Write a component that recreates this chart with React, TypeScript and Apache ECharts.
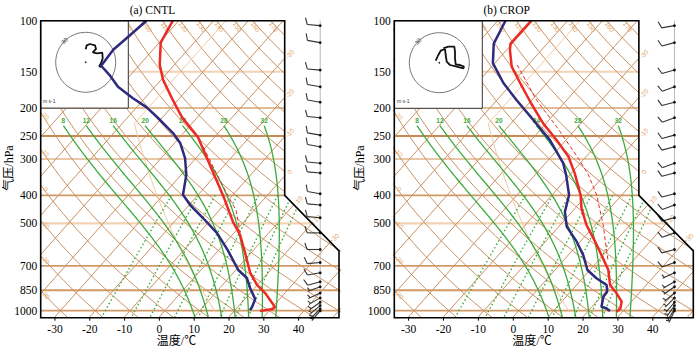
import React, { useEffect, useRef } from "react";
import * as echarts from "echarts";

// ---------------- diagram geometry ----------------
const SKEW = 74; // °C of x-shift per decade of pressure
const P_REF = 1050; // pressure where x equals temperature
const P_TOP = 100;
const P_BOTTOM = 1057;
const X_MIN = -34.1;
const X_MAX = 51.6;
const X_NOTCH = 36;
const P_NOTCH_TOP = 400;
const P_NOTCH_BOTTOM = 622;
const X_WIND = 46.2;
const MOIST_TOP = 230;

// ---------------- tick labels ----------------
const pressureTicks = [100, 150, 200, 250, 300, 400, 500, 700, 850, 1000];
const temperatureTicks = [-30, -20, -10, 0, 10, 20, 30, 40];

// ---------------- background families ----------------
const isobars = [150, 200, 250, 300, 400, 500, 700, 850, 1000];
const isobarColors = ["#f2d3b5", "#d6a472", "#c88a52", "#e0b48c", "#d09a66", "#f2d3b5", "#d09a66", "#d09a66", "#d09a66"];
const isobarWidths = [2.2, 1.6, 2, 1.6, 1.8, 2.2, 1.8, 1.8, 1.8];
const isotherms = [-110, -100, -90, -80, -70, -60, -50, -40, -30, -20, -10, 0, 10, 20, 30, 40, 50];
const dryAdiabats = [-40, -30, -20, -10, 0, 10, 20, 30, 40, 50, 60, 70, 80, 90, 100, 110, 120, 130, 140, 150, 160, 170, 180];
const moistAdiabats = [8, 12, 16, 20, 24, 28, 32];
const mixingRatios = [1, 2, 3, 5, 8, 12, 16, 20];
const isothermLabelTemps = [-30, -20, -10, 0, 10, 20, 30];
const stdAtmHeights = [0, 0.5, 1, 1.5, 2, 2.5, 3, 3.5, 4, 4.5, 5, 5.5, 6, 6.5, 7, 7.5, 8, 8.5, 9, 9.5, 10, 10.5, 11, 11.5, 12, 12.5, 13, 13.5, 14, 14.5, 15, 15.5, 16, 16.5];

// ---------------- CNTL sounding ----------------
const cntlTempPressure = [100, 119, 142, 160, 188, 215, 252, 320, 409, 495, 548, 632, 741, 815, 869, 971, 986, 1002];
const cntlTemperature = [-71.7, -69.6, -64.2, -59.4, -51.4, -44.5, -34.8, -23.4, -11.7, -3.0, 2.3, 8.3, 14.9, 19.9, 24.3, 30.7, 30.6, 27.4];
const cntlDewPressure = [100, 112, 126, 143, 154, 169, 185, 199, 220, 244, 264, 298, 340, 398, 432, 479, 540, 618, 724, 771, 835, 912, 971, 995];
const cntlDewpoint = [-79.3, -80.3, -81.4, -80.8, -76.0, -70.6, -63.4, -57.1, -50.0, -43.0, -38.4, -33.1, -28.5, -24.4, -19.7, -12.7, -4.8, 2.6, 10.7, 15.2, 18.7, 23.0, 24.1, 24.3];
const cntlParcelPressure = [272, 335, 415, 450, 535];
const cntlParcelTemp = [-30.8, -20.4, -9.5, -5.2, 1.5];

// ---------------- CROP sounding ----------------
const cropTempPressure = [100, 120, 126, 144, 164, 193, 226, 258, 294, 336, 399, 444, 507, 578, 660, 724, 815, 871, 931, 981, 1008];
const cropTemperature = [-70.4, -70.5, -69.1, -64.3, -57.7, -49.3, -40.8, -32.7, -25.1, -19.0, -11.8, -8.1, -2.4, 4.3, 10.8, 15.3, 19.6, 23.6, 27.2, 28.5, 28.3];
const cropDewPressure = [100, 120, 140, 164, 188, 220, 258, 310, 340, 399, 456, 513, 578, 643, 724, 773, 815, 860, 895, 969, 981, 1002];
const cropDewpoint = [-77.8, -75.3, -70.6, -62.5, -54.3, -44.5, -34.6, -24.9, -21.1, -15.1, -12.0, -7.7, -1.0, 4.3, 9.3, 14.0, 18.6, 20.5, 20.7, 22.7, 24.5, 26.2];
const cropParcelPressure = [142, 188, 232, 294, 340, 399, 506, 679];
const cropParcelTemp = [-63.2, -48.6, -36.1, -22.6, -14.7, -7.2, 2.3, 13.2];

// ---------------- winds ----------------
const windLevels = [104, 119, 148, 169, 191, 216, 248, 272, 310, 335, 395, 432, 478, 539, 615, 682, 740, 795, 827, 869, 903, 935, 960, 985, 1000];
const cntlWindDir = [275, 280, 275, 280, 280, 275, 280, 280, 275, 275, 280, 275, 275, 270, 270, 265, 260, 255, 250, 245, 240, 235, 230, 225, 220];
const cntlWindSpeed = [10, 10, 10, 10, 10, 10, 10, 10, 10, 10, 10, 10, 10, 10, 10, 10, 8, 8, 7, 7, 6, 6, 5, 5, 4];
const cropWindDir = [260, 255, 255, 250, 255, 250, 255, 255, 250, 255, 255, 250, 255, 250, 255, 250, 245, 240, 235, 230, 225, 220, 215, 210, 205];
const cropWindSpeed = [10, 10, 10, 10, 10, 10, 10, 10, 10, 10, 10, 10, 10, 10, 8, 8, 7, 7, 6, 6, 5, 5, 4, 4, 3];

// ---------------- hodographs (m/s) ----------------
const cntlHodoU = [0, 1, 4.3, 9.3, 10.3, 7, 11.6, 16.6, 17, 15.3, 13.6, 15.3];
const cntlHodoV = [13, 17, 18.3, 17, 13.3, 10, 9, 9.6, 4, -1, -3.7, -5];
const cropHodoU = [-3.6, -1, 1.4, 5.7, 6.4, 7.4, 10.7, 17.4, 24, 24.7, 20.7, 16.4, 15.7, 15.7, 15, 9, 4];
const cropHodoV = [2, 7.7, 12, 13.7, 7.7, 1, -2.3, -4, -5.6, -4, -2.3, -1.6, 4.4, 11, 16, 16, 14.4];
const hodoRingSpeed = 30;

// ---------------- thermodynamics ----------------
const LOG_REF = Math.log10(P_REF);
const Y_TOP = Math.log10(P_TOP);
const Y_BOTTOM = Math.log10(P_BOTTOM);
const yOf = (p: number) => Math.log10(p);
const xOf = (t: number, p: number) => t + SKEW * (LOG_REF - Math.log10(p));
const KAPPA = 0.2857;
const dryT = (thC: number, p: number) => (thC + 273.15) * Math.pow(p / 1000, KAPPA) - 273.15;
const satVap = (tc: number) => 6.112 * Math.exp((17.67 * tc) / (tc + 243.5));
const satMix = (tc: number, p: number) => {
  const e = satVap(tc);
  return (0.622 * e) / (p - e);
};
function moistRate(tk: number, p: number) {
  const Rd = 287.04, cp = 1005.7, Lv = 2.501e6, eps = 0.622;
  const r = satMix(tk - 273.15, p);
  return (Rd * tk + Lv * r) / (p * (cp + (Lv * Lv * r * eps) / (Rd * tk * tk)));
}
function integrateMoist(tk0: number, p0: number, p1: number, step: number) {
  const out: number[][] = [[p0, tk0]];
  let p = p0, t = tk0;
  const dp = p1 < p0 ? -step : step;
  const n = Math.round(Math.abs(p1 - p0) / step);
  for (let i = 0; i < n; i++) {
    const k1 = moistRate(t, p);
    const k2 = moistRate(t + (k1 * dp) / 2, p + dp / 2);
    const k3 = moistRate(t + (k2 * dp) / 2, p + dp / 2);
    const k4 = moistRate(t + k3 * dp, p + dp);
    t += (dp * (k1 + 2 * k2 + 2 * k3 + k4)) / 6;
    p += dp;
    out.push([p, t]);
  }
  return out;
}
function moistLine(thw: number) {
  const up = integrateMoist(thw + 273.15, 1000, MOIST_TOP, 5).reverse();
  const down = integrateMoist(thw + 273.15, 1000, P_BOTTOM, 3).slice(1);
  return up.concat(down).map(([p, tk]) => [xOf(tk - 273.15, p), yOf(p)]);
}
const mixT = (w: number, p: number) => {
  const e = (w * p) / (622 + w);
  const L = Math.log(e / 6.112);
  return (243.5 * L) / (17.67 - L);
};
function pressureSamples(pa: number, pb: number, n: number) {
  const a = Math.log10(pa), b = Math.log10(pb);
  const out: number[] = [];
  for (let i = 0; i <= n; i++) out.push(Math.pow(10, a + ((b - a) * i) / n));
  return out;
}
function stdAtm(z: number) {
  if (z <= 11) return { p: 1013.25 * Math.pow(1 - (0.0065 * z * 1000) / 288.15, 5.2559), t: 15 - 6.5 * z };
  return { p: 226.32 * Math.exp((-9.80665 * (z - 11) * 1000) / (287.05 * 216.65)), t: -56.5 };
}
const profile = (ps: number[], ts: number[]) => ps.map((p, i) => [xOf(ts[i], p), yOf(p)]);

// ---------------- series helpers ----------------
function lineS(ai: number, data: number[][], color: string, width: number, z: number, type: any = "solid", clip = true) {
  return {
    type: "line", xAxisIndex: ai, yAxisIndex: ai, data, symbol: "none", showSymbol: false, silent: true, clip, z,
    lineStyle: { color, width, type }, emphasis: { disabled: true }, animation: false,
  };
}
type Lbl = { x: number; y: number; text: string; rot: number; dx: number; dy: number; color: string; size: number; align?: string; weight?: string; family?: string };
function textS(ai: number, items: Lbl[], z: number) {
  return {
    type: "custom", xAxisIndex: ai, yAxisIndex: ai, z, silent: true, clip: false,
    data: items.map((it) => [it.x, it.y]),
    renderItem: (params: any, api: any) => {
      const it = items[params.dataIndex];
      const pt = api.coord([api.value(0), api.value(1)]);
      return {
        type: "text", x: pt[0] + it.dx, y: pt[1] + it.dy, rotation: (it.rot * Math.PI) / 180,
        style: {
          text: it.text, fill: it.color, fontSize: it.size, fontWeight: it.weight || "normal",
          fontFamily: it.family || "Liberation Sans", align: it.align || "center", verticalAlign: "middle",
        },
      };
    },
  };
}
function polyS(ai: number, pts: number[][], style: any, z: number) {
  return {
    type: "custom", xAxisIndex: ai, yAxisIndex: ai, z, silent: true, clip: false,
    data: [[pts[0][0], pts[0][1]]],
    renderItem: (_p: any, api: any) => ({ type: "polygon", shape: { points: pts.map((q) => api.coord(q)) }, style }),
  };
}
function barbS(ai: number, dirs: number[], spds: number[]) {
  return {
    type: "custom", xAxisIndex: ai, yAxisIndex: ai, z: 9, silent: true, clip: false,
    data: windLevels.map((p, i) => [X_WIND, yOf(p), dirs[i], spds[i]]),
    renderItem: (_p: any, api: any) => {
      const c = api.coord([api.value(0), api.value(1)]);
      const d = (api.value(2) * Math.PI) / 180;
      const s = Math.round(api.value(3) / 5) * 5;
      const vx = Math.sin(d), vy = -Math.cos(d);
      const a = (70 * Math.PI) / 180;
      const tx = vx * Math.cos(a) - vy * Math.sin(a);
      const ty = vx * Math.sin(a) + vy * Math.cos(a);
      const L = 13;
      const st = { stroke: "#333", lineWidth: 1.1 };
      const children: any[] = [{ type: "line", shape: { x1: c[0], y1: c[1], x2: c[0] + vx * L, y2: c[1] + vy * L }, style: st }];
      let rem = s, pos = L;
      while (rem >= 10) {
        const bx = c[0] + vx * pos, by = c[1] + vy * pos;
        children.push({ type: "line", shape: { x1: bx, y1: by, x2: bx + tx * 7, y2: by + ty * 7 }, style: st });
        pos -= 3; rem -= 10;
      }
      if (rem >= 5) {
        if (pos === L) pos -= 2;
        const bx = c[0] + vx * pos, by = c[1] + vy * pos;
        children.push({ type: "line", shape: { x1: bx, y1: by, x2: bx + tx * 3.8, y2: by + ty * 3.8 }, style: st });
      }
      children.push({ type: "circle", shape: { cx: c[0], cy: c[1], r: 1.4 }, style: { fill: "#111" } });
      return { type: "group", children };
    },
  };
}

const ORANGE = "#e2a66c";
const GREEN = "#3caa3c";
const BROWN = "#c99263";

function panelSeries(ai: number, hi: number, s: any) {
  const out: any[] = [];
  // isobars
  isobars.forEach((p, i) => out.push(lineS(ai, [[X_MIN, yOf(p)], [X_MAX, yOf(p)]], isobarColors[i], isobarWidths[i], 2)));
  // isotherms
  isotherms.forEach((t) => out.push(lineS(ai, [[xOf(t, P_TOP), Y_TOP], [xOf(t, P_BOTTOM), Y_BOTTOM]], BROWN, 1, 2)));
  // dry adiabats
  const dryPs = pressureSamples(P_TOP, P_BOTTOM, 40);
  dryAdiabats.forEach((th) => out.push(lineS(ai, dryPs.map((p) => [xOf(dryT(th, p), p), yOf(p)]), BROWN, 1, 2)));
  // standard atmosphere
  out.push(lineS(ai, stdAtmHeights.map((z) => { const q = stdAtm(z); return [xOf(q.t, q.p), yOf(q.p)]; }), "#f1c9a2", 1, 2));
  // moist adiabats
  moistAdiabats.forEach((w) => out.push(lineS(ai, moistLine(w), GREEN, 1.3, 2)));
  // mixing ratio
  const mixPs = pressureSamples(400, P_BOTTOM, 14);
  mixingRatios.forEach((w) => out.push(lineS(ai, mixPs.map((p) => [xOf(mixT(w, p), p), yOf(p)]), GREEN, 1.4, 2, [1.5, 2.5])));

  // labels: dry adiabats at left edge (under inset)
  const leftLbls: Lbl[] = [];
  dryAdiabats.forEach((th) => {
    const f = (p: number) => xOf(dryT(th, p), p) - X_MIN;
    if (f(P_BOTTOM) <= 0 || f(P_TOP) >= 0) return;
    let lo = P_TOP, hi2 = P_BOTTOM;
    for (let k = 0; k < 40; k++) { const m = (lo + hi2) / 2; if (f(m) > 0) hi2 = m; else lo = m; }
    leftLbls.push({ x: X_MIN, y: yOf(lo), text: String(th), rot: -47, dx: 5, dy: 4, color: ORANGE, size: 6.5 });
  });
  out.push(textS(ai, leftLbls, 3));

  const lbls: Lbl[] = [];
  // dry adiabat labels along top
  dryAdiabats.forEach((th) => {
    const xt = xOf(dryT(th, P_TOP), P_TOP);
    if (xt > -10 && xt < X_NOTCH - 2) lbls.push({ x: xt, y: Y_TOP, text: String(th), rot: -55, dx: 3, dy: 6, color: ORANGE, size: 6.5 });
  });
  // isotherm labels along right edge / diagonal
  const yNT = yOf(P_NOTCH_TOP), yNB = yOf(P_NOTCH_BOTTOM);
  isothermLabelTemps.forEach((t) => {
    const yEdge = LOG_REF - (X_NOTCH - t) / SKEW;
    if (yEdge <= yNT) {
      lbls.push({ x: X_NOTCH, y: yEdge, text: String(t), rot: 48, dx: 5, dy: -4, color: ORANGE, size: 6.5 });
    } else {
      const sp = (t + SKEW * (LOG_REF - yNT) - X_NOTCH) / (X_MAX - X_NOTCH + SKEW * (yNB - yNT));
      lbls.push({ x: X_NOTCH + sp * (X_MAX - X_NOTCH), y: yNT + sp * (yNB - yNT), text: String(t), rot: 48, dx: 5, dy: -5, color: ORANGE, size: 6.5 });
    }
  });
  // moist adiabat labels
  moistAdiabats.forEach((w) => {
    const top = moistLine(w)[0];
    lbls.push({ x: top[0], y: top[1], text: String(w), rot: 0, dx: 0, dy: -5, color: GREEN, size: 6.5, weight: "bold" });
  });
  out.push(textS(ai, lbls, 5));

  // mask outside the frame (upper right notch)
  out.push(polyS(ai, [[X_NOTCH, Y_TOP - 0.012], [X_MAX + 1.5, Y_TOP - 0.012], [X_MAX + 1.5, yNB], [X_NOTCH, yNT]], { fill: "#ffffff", stroke: "none" }, 4));

  // hodograph
  out.push({
    type: "custom", xAxisIndex: hi, yAxisIndex: hi, z: 7, silent: true, clip: false, data: [[0, 0]],
    renderItem: (_p: any, api: any) => {
      const c = api.coord([0, 0]);
      const r = api.size([hodoRingSpeed, hodoRingSpeed])[0];
      return {
        type: "group", children: [
          { type: "circle", shape: { cx: c[0], cy: c[1], r }, style: { fill: "none", stroke: "#777", lineWidth: 1 } },
          { type: "circle", shape: { cx: c[0], cy: c[1], r: 0.9 }, style: { fill: "#333" } },
        ],
      };
    },
  });
  out.push(lineS(hi, s.hu.map((u: number, i: number) => [u, s.hv[i]]), "#111", 1.8, 7, "solid", false));
  out.push(textS(hi, [{ x: -21.2, y: 21.2, text: String(hodoRingSpeed), rot: 45, dx: 0, dy: 0, color: "#333", size: 6 }], 7));

  // soundings
  out.push(lineS(ai, profile(s.pp, s.pt), "#ee2a24", 1, 8, [4, 2.5]));
  out.push(lineS(ai, profile(s.dp, s.dt), "#2e2a7e", 2.5, 8));
  out.push(lineS(ai, profile(s.tp, s.tt), "#ee2a24", 2.5, 8));

  // wind column
  out.push(lineS(ai, [[X_WIND, Y_TOP], [X_WIND, yOf(1004)]], "#b8b8b8", 1, 8, "solid", false));
  out.push(barbS(ai, s.wd, s.ws));

  // frame
  out.push(polyS(ai, [[X_MIN, Y_TOP], [X_NOTCH, Y_TOP], [X_NOTCH, yNT], [X_MAX, yNB], [X_MAX, Y_BOTTOM], [X_MIN, Y_BOTTOM]], { fill: "none", stroke: "#000", lineWidth: 1.6 }, 10));

  // x ticks
  out.push({
    type: "custom", xAxisIndex: ai, yAxisIndex: ai, z: 10, silent: true, clip: false,
    data: temperatureTicks.map((t) => [t, Y_BOTTOM]),
    renderItem: (_p: any, api: any) => {
      const pt = api.coord([api.value(0), api.value(1)]);
      return { type: "line", shape: { x1: pt[0], y1: pt[1], x2: pt[0], y2: pt[1] + 3 }, style: { stroke: "#000", lineWidth: 1 } };
    },
  });
  // y tick labels
  out.push(textS(ai, pressureTicks.map((p) => ({ x: X_MIN, y: yOf(p), text: String(p), rot: 0, dx: -3.5, dy: 0, color: "#000", size: 11.5, align: "right", family: "Liberation Serif" })), 10));
  return out;
}

function buildOption() {
  const panels = [
    { tp: cntlTempPressure, tt: cntlTemperature, dp: cntlDewPressure, dt: cntlDewpoint, pp: cntlParcelPressure, pt: cntlParcelTemp, wd: cntlWindDir, ws: cntlWindSpeed, hu: cntlHodoU, hv: cntlHodoV },
    { tp: cropTempPressure, tt: cropTemperature, dp: cropDewPressure, dt: cropDewpoint, pp: cropParcelPressure, pt: cropParcelTemp, wd: cropWindDir, ws: cropWindSpeed, hu: cropHodoU, hv: cropHodoV },
  ];
  const grids = [
    { left: 40.7, top: 20.7, width: 298.3, height: 297 },
    { left: 394.3, top: 20.7, width: 299, height: 297 },
    { left: 55.7, top: 32.3, width: 60, height: 60 },
    { left: 409.3, top: 32.7, width: 60, height: 60 },
  ].map((g) => ({ ...g, containLabel: false, outerBoundsMode: "none" }));
  const fmt = (v: number) => {
    const r = Math.round(v);
    return Math.abs(v - r) < 1e-6 && temperatureTicks.includes(r) ? String(r) : "";
  };
  const mainX = (gi: number) => ({
    type: "value", gridIndex: gi, min: X_MIN, max: X_MAX, minInterval: 10, maxInterval: 10,
    axisLine: { show: false }, axisTick: { show: false }, splitLine: { show: false },
    axisLabel: { formatter: fmt, fontSize: 11.5, fontFamily: "Liberation Serif", color: "#000", margin: 5 },
  });
  const mainY = (gi: number) => ({ type: "value", gridIndex: gi, min: Y_TOP, max: Y_BOTTOM, inverse: true, show: false, splitLine: { show: false } });
  const hodoAx = (gi: number) => ({ type: "value", gridIndex: gi, min: -30, max: 30, show: false, splitLine: { show: false } });

  const serif = '"Liberation Serif", "Noto Sans CJK SC", serif';
  const txt = (x: number, y: number, text: string, size: number, rot = 0) => ({
    type: "text", x, y, rotation: rot, z: 12,
    style: { text, fill: "#000", fontSize: size, fontFamily: serif, align: "center", verticalAlign: "middle", textAlign: "center", textVerticalAlign: "middle" },
  });
  const graphic = [
    { type: "rect", shape: { x: 40.7, y: 20.7, width: 87.6, height: 87.4 }, style: { fill: "#fff", stroke: "#333", lineWidth: 1 }, z: 6 },
    { type: "rect", shape: { x: 394.3, y: 20.7, width: 88, height: 87.6 }, style: { fill: "#fff", stroke: "#333", lineWidth: 1 }, z: 6 },
    { type: "text", x: 43, y: 101, z: 7, style: { text: "m s-1", fill: "#333", fontSize: 5, fontFamily: "Liberation Sans", verticalAlign: "middle", textVerticalAlign: "middle" } },
    { type: "text", x: 397, y: 101, z: 7, style: { text: "m s-1", fill: "#333", fontSize: 5, fontFamily: "Liberation Sans", verticalAlign: "middle", textVerticalAlign: "middle" } },
    txt(152.5, 10, "(a) CNTL", 11.5),
    txt(506.7, 10, "(b) CROP", 11.5),
    txt(176.5, 340.5, "温度/℃", 12),
    txt(532, 340.5, "温度/℃", 12),
    txt(9, 168, "气压/hPa", 12, Math.PI / 2),
    txt(360, 168, "气压/hPa", 12, Math.PI / 2),
  ];

  return {
    animation: false,
    backgroundColor: "#ffffff",
    grid: grids,
    xAxis: [mainX(0), mainX(1), hodoAx(2), hodoAx(3)],
    yAxis: [mainY(0), mainY(1), hodoAx(2), hodoAx(3)],
    series: [...panelSeries(0, 2, panels[0]), ...panelSeries(1, 3, panels[1])],
    graphic,
  };
}

export default function App() {
  const ref = useRef<HTMLDivElement>(null);
  useEffect(() => {
    document.body.style.margin = "0";
    const chart = echarts.init(ref.current as HTMLDivElement, undefined, { renderer: "svg", width: 700, height: 351 });
    chart.setOption(buildOption() as any);
    return () => chart.dispose();
  }, []);
  return <div ref={ref} style={{ width: 700, height: 351 }} />;
}
